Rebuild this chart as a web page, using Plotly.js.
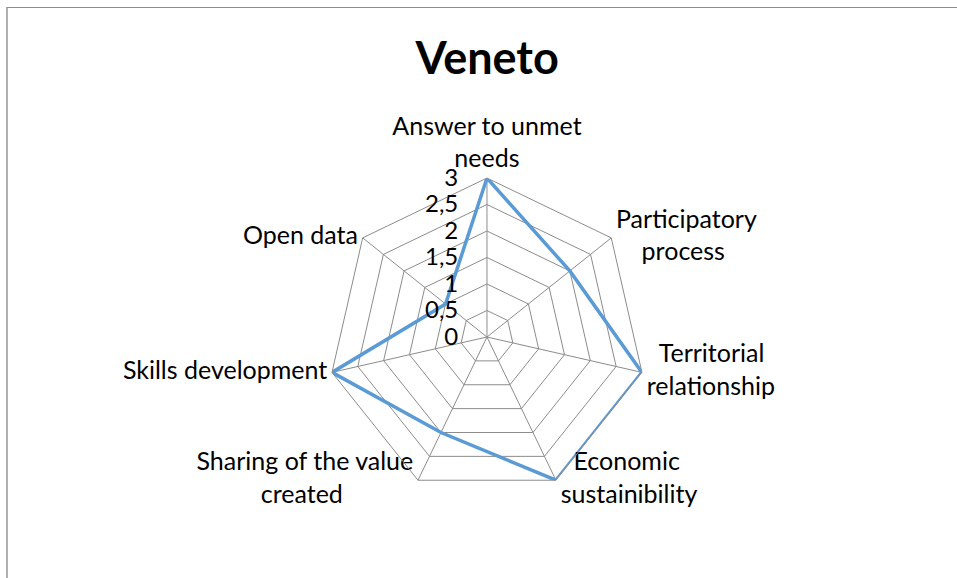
<!DOCTYPE html>
<html>
<head>
<meta charset="utf-8">
<script src="https://cdn.plot.ly/plotly-3.0.1.min.js"></script>
<style>
  body { margin: 0; background: #fff; }
  #plot { width: 957px; height: 578px; }
  #frame { position: absolute; left: 6px; top: 7px; width: 1000px; height: 600px;
           border-left: 2px solid #b0b0b0; border-top: 1px solid #8c8c8c; pointer-events: none; }
</style>
</head>
<body>
<div id="plot"></div>
<div id="frame"></div>
<script>
// categories and scores for Veneto
var categories = ["Answer to unmet<br>needs", "Participatory<br>process", "Territorial<br>relationship",
  "Economic<br>sustainibility", "Sharing of the value<br>created", "Skills development", "Open data"];
var scores = [3, 2, 3, 3, 2, 3, 1];
var radialTicks = [0, 0.5, 1, 1.5, 2, 2.5, 3];
var rMax = 3;

// excel style: labels sit next to the outer vertex
var labelPos = ["top center", "middle right", "middle right", "middle right",
  "middle left", "middle left", "middle left"];

var fontSize = 25;
var fontFam = "Lato, 'Open Sans', sans-serif";

// pad the short line with nbsp so two-line labels look centred like excel
var ctx = document.createElement("canvas").getContext("2d");
ctx.font = fontSize + "px Lato";
function centreLines(label, pos) {
  var lines = label.split("<br>");
  if (lines.length < 2 || pos.indexOf("center") >= 0) return label;
  var w = lines.map(function(s) { return ctx.measureText(s).width; });
  var maxW = Math.max.apply(null, w);
  var sp = ctx.measureText("\u00a0").width;
  return lines.map(function(s, i) {
    var n = Math.round((maxW - w[i]) / 2 / sp);
    var pad = new Array(n + 1).join("\u00a0");
    return pos.indexOf("right") >= 0 ? pad + s : s + pad;
  }).join("<br>");
}
var labelText = categories.map(function(c, i) { return centreLines(c, labelPos[i]); });

var trace1 = {
  type: "scatterpolar",
  r: scores.concat([scores[0]]),
  theta: categories.concat([categories[0]]),
  mode: "lines",
  line: {color: "#5b9bd5", width: 3.5},
  hoverinfo: "skip"
};

var labels = {
  type: "scatterpolar",
  r: categories.map(function() { return rMax; }),
  theta: categories,
  mode: "markers+text",
  marker: {size: 6, opacity: 0},
  text: labelText,
  textposition: labelPos,
  textfont: {size: fontSize, color: "#000"},
  cliponaxis: false,
  hoverinfo: "skip"
};

var tickText = radialTicks.map(function(v) {
  return String(v).replace(".", ",") + "\u00a0\u00a0\u00a0\u00a0";
});

var layOut = {
  width: 957,
  height: 578,
  margin: {l: 0, r: 0, t: 0, b: 0},
  paper_bgcolor: "#fff",
  font: {family: fontFam, size: 24, color: "#000"},
  showlegend: false,
  title: {
    text: "Veneto",
    font: {size: 45, weight: "bold", color: "#000"},
    x: 0.509, xanchor: "center",
    yref: "container", y: 1 - 58 / 578, yanchor: "middle"
  },
  polar: {
    domain: {x: [0.3427, 0.675], y: [0.1419, 0.692]},
    gridshape: "linear",
    bgcolor: "#fff",
    angularaxis: {
      rotation: 90,
      direction: "clockwise",
      gridcolor: "#8c8c8c",
      linecolor: "#8c8c8c",
      linewidth: 1,
      ticks: "",
      showticklabels: false
    },
    radialaxis: {
      range: [0, rMax],
      tickvals: radialTicks,
      ticktext: tickText,
      angle: 90,
      tickangle: 90,
      side: "counterclockwise",
      showline: false,
      gridcolor: "#8c8c8c",
      ticks: "",
      tickfont: {size: 24}
    }
  }
};

Plotly.newPlot("plot", [trace1, labels], layOut, {displayModeBar: false});
</script>
</body>
</html>
